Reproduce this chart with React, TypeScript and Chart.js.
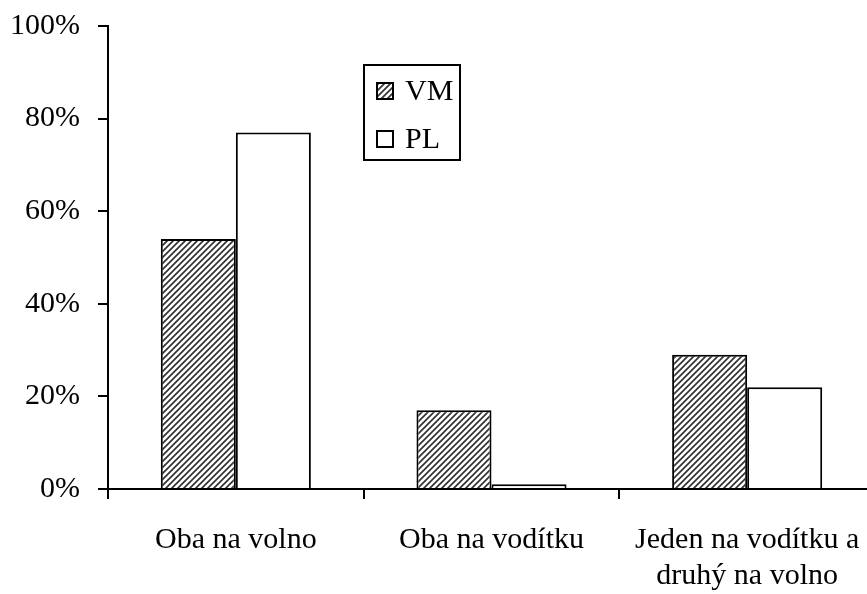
import React, { useEffect, useRef } from 'react';
import { Chart, registerables } from 'chart.js';

Chart.register(...registerables);

const categories: (string | string[])[] = [
  'Oba na volno',
  'Oba na vodítku',
  ['Jeden na vodítku a', 'druhý na volno'],
];
const seriesNames = ['VM', 'PL'];
const vmValues = [54, 17, 29];
const plValues = [77, 1, 22];
const yMin = 0;
const yMax = 100;
const yStep = 20;

const FONT = "'Liberation Serif', 'Times New Roman', serif";

function makeHatch(): CanvasPattern | string {
  const c = document.createElement('canvas');
  c.width = 6;
  c.height = 6;
  const g = c.getContext('2d');
  if (!g) return '#888';
  g.fillStyle = '#fff';
  g.fillRect(0, 0, 6, 6);
  g.strokeStyle = '#333';
  g.lineWidth = 1.7;
  g.beginPath();
  g.moveTo(0, 6);
  g.lineTo(6, 0);
  g.moveTo(-1, 1);
  g.lineTo(1, -1);
  g.moveTo(5, 7);
  g.lineTo(7, 5);
  g.stroke();
  const p = g.createPattern(c, 'repeat');
  return p || '#888';
}

export default function App() {
  const ref = useRef<HTMLCanvasElement | null>(null);

  useEffect(() => {
    const canvas = ref.current;
    if (!canvas) return;
    const ctx = canvas.getContext('2d');
    if (!ctx) return;
    const hatch = makeHatch();

    const boxLegend = {
      id: 'boxLegend',
      afterDraw(chart: any) {
        const c = chart.ctx as CanvasRenderingContext2D;
        c.save();
        c.strokeStyle = '#000';
        c.lineWidth = 2;
        c.fillStyle = '#fff';
        c.fillRect(364, 65, 96, 95);
        c.strokeRect(364, 65, 96, 95);
        const rows = [91, 139];
        chart.data.datasets.forEach((ds: any, i: number) => {
          const y = rows[i];
          c.fillStyle = ds.backgroundColor;
          c.fillRect(377, y - 8, 16, 16);
          c.lineWidth = 2;
          c.strokeStyle = '#000';
          c.strokeRect(377, y - 8, 16, 16);
          c.fillStyle = '#000';
          c.font = `30px ${FONT}`;
          c.textAlign = 'left';
          c.textBaseline = 'middle';
          c.fillText(ds.label, 405, y + 1);
        });
        c.restore();
      },
    };

    const chart = new Chart(ctx, {
      type: 'bar',
      data: {
        labels: categories as any,
        datasets: [
          {
            label: seriesNames[0],
            data: vmValues,
            backgroundColor: hatch as any,
            borderColor: '#000',
            borderWidth: 2,
            categoryPercentage: 0.587,
            barPercentage: 1,
          },
          {
            label: seriesNames[1],
            data: plValues,
            backgroundColor: '#fff',
            borderColor: '#000',
            borderWidth: 2,
            categoryPercentage: 0.587,
            barPercentage: 1,
          },
        ],
      },
      options: {
        responsive: false,
        animation: false,
        devicePixelRatio: 1,
        layout: { padding: { top: 26, right: 1, left: 0, bottom: 0 } },
        plugins: {
          legend: { display: false },
          tooltip: { enabled: false },
        },
        scales: {
          x: {
            type: 'category',
            offset: true,
            grid: {
              display: true,
              offset: true,
              drawOnChartArea: false,
              drawTicks: true,
              tickLength: 10,
              color: '#000',
              lineWidth: 2,
            },
            border: { display: true, color: '#000', width: 2 },
            ticks: {
              color: '#000',
              font: { family: FONT, size: 30, lineHeight: 1.2 },
              padding: 23,
              maxRotation: 0,
              minRotation: 0,
              autoSkip: false,
            },
            afterFit: (s: any) => {
              s.height = 105;
              s.paddingLeft = 0;
              s.paddingRight = 0;
            },
          },
          y: {
            min: yMin,
            max: yMax,
            grid: {
              display: true,
              drawOnChartArea: false,
              drawTicks: true,
              tickLength: 10,
              color: '#000',
              lineWidth: 2,
            },
            border: { display: true, color: '#000', width: 2 },
            ticks: {
              stepSize: yStep,
              color: '#000',
              font: { family: FONT, size: 30 },
              padding: 18,
              callback: (v: any) => `${v}%`,
            },
            afterFit: (s: any) => {
              s.width = 108;
              s.paddingTop = 0;
              s.paddingBottom = 0;
            },
          },
        },
      },
      plugins: [boxLegend],
    });

    return () => chart.destroy();
  }, []);

  return (
    <div
      style={{
        position: 'fixed',
        left: 0,
        top: 0,
        width: 867,
        height: 594,
        overflow: 'hidden',
        background: '#fff',
      }}
    >
      <canvas ref={ref} width={876} height={594} style={{ display: 'block' }} />
    </div>
  );
}
